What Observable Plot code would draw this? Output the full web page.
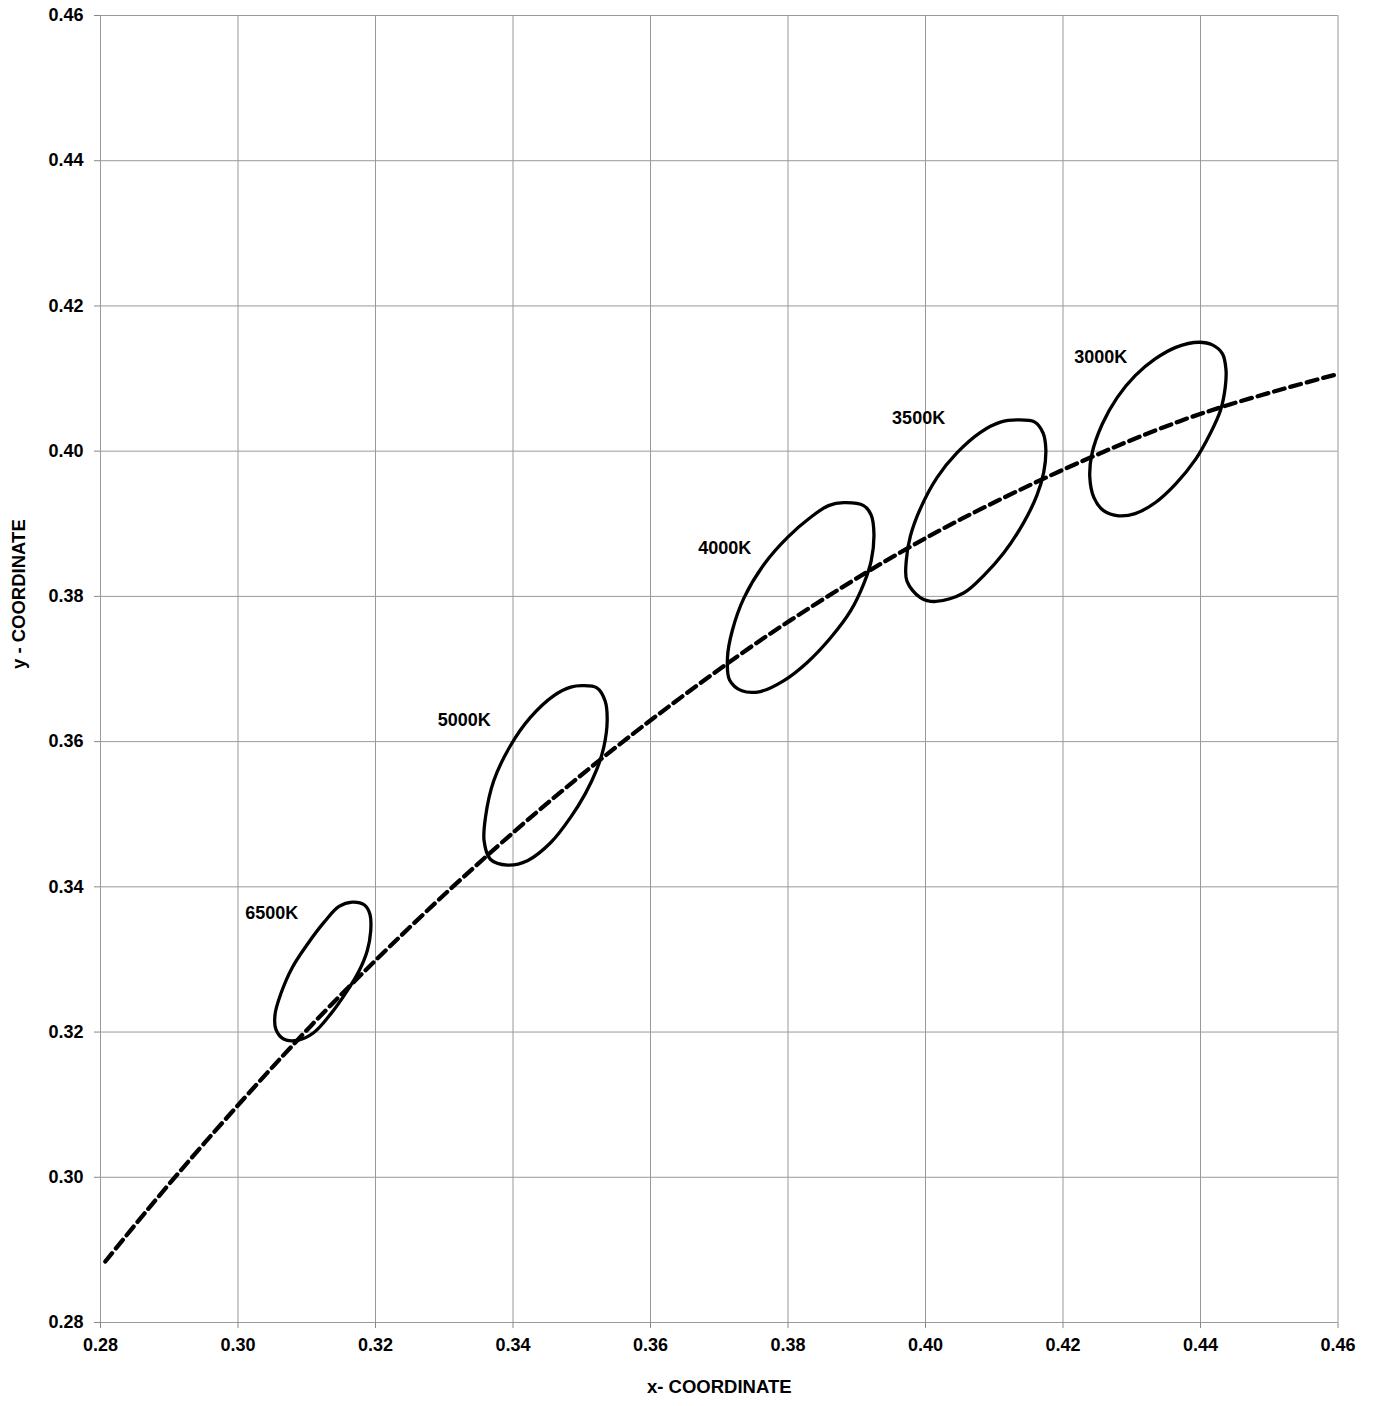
<!DOCTYPE html>
<html>
<head>
<meta charset="utf-8">
<script src="https://cdn.jsdelivr.net/npm/d3@7"></script>
<script src="https://cdn.jsdelivr.net/npm/@observablehq/plot@0.6"></script>
<style>
  html, body { margin: 0; padding: 0; background: #fff; }
  #chart { width: 1374px; height: 1406px; }
</style>
</head>
<body>
<div id="chart"></div>
<script>
// Axis ticks
const xTicks = [0.28, 0.30, 0.32, 0.34, 0.36, 0.38, 0.40, 0.42, 0.44, 0.46];
const yTicks = [0.28, 0.30, 0.32, 0.34, 0.36, 0.38, 0.40, 0.42, 0.44, 0.46];

// Planckian locus (dashed line)
const locusX = [0.2807, 0.2869, 0.2952, 0.3064, 0.3135, 0.3221, 0.3325, 0.3451, 0.3608, 0.3805, 0.4053, 0.4369, 0.4599];
const locusY = [0.2884, 0.2956, 0.3048, 0.3166, 0.3237, 0.3318, 0.3411, 0.3516, 0.3635, 0.3768, 0.3907, 0.4041, 0.4106];

// Ellipse outlines
const e6500x = [0.3166, 0.3184, 0.3192, 0.3193, 0.3188, 0.3176, 0.3159, 0.3135, 0.3110, 0.3088, 0.3067, 0.3055, 0.3054, 0.3062, 0.3079, 0.3101, 0.3125, 0.3147];
const e6500y = [0.3379, 0.3375, 0.3362, 0.3339, 0.3312, 0.3284, 0.3257, 0.3225, 0.3199, 0.3189, 0.3190, 0.3204, 0.3225, 0.3252, 0.3289, 0.3321, 0.3351, 0.3373];

const e5000x = [0.3501, 0.3522, 0.3534, 0.3537, 0.3532, 0.3522, 0.3505, 0.3484, 0.3455, 0.3421, 0.3392, 0.3367, 0.3358, 0.3360, 0.3372, 0.3396, 0.3425, 0.3459, 0.3484];
const e5000y = [0.3677, 0.3674, 0.3656, 0.3629, 0.3592, 0.3562, 0.3528, 0.3496, 0.3461, 0.3436, 0.3430, 0.3438, 0.3463, 0.3496, 0.3546, 0.3594, 0.3633, 0.3663, 0.3675];

const e4000x = [0.3881, 0.3910, 0.3921, 0.3925, 0.3921, 0.3910, 0.3891, 0.3862, 0.3828, 0.3794, 0.3760, 0.3733, 0.3715, 0.3712, 0.3719, 0.3736, 0.3765, 0.3799, 0.3833, 0.3859];
const e4000y = [0.3929, 0.3925, 0.3912, 0.3886, 0.3849, 0.3817, 0.3780, 0.3743, 0.3709, 0.3684, 0.3669, 0.3670, 0.3685, 0.3716, 0.3753, 0.3798, 0.3844, 0.3881, 0.3909, 0.3925];

const e3500x = [0.4133, 0.4159, 0.4171, 0.4175, 0.4172, 0.4162, 0.4143, 0.4114, 0.4085, 0.4056, 0.4015, 0.3993, 0.3973, 0.3972, 0.3978, 0.3993, 0.4017, 0.4046, 0.4080, 0.4109];
const e3500y = [0.4043, 0.4040, 0.4025, 0.4003, 0.3971, 0.3939, 0.3902, 0.3860, 0.3829, 0.3805, 0.3793, 0.3798, 0.3821, 0.3849, 0.3883, 0.3922, 0.3964, 0.3998, 0.4026, 0.4040];

const e3000x = [0.4398, 0.4418, 0.4432, 0.4437, 0.4436, 0.4429, 0.4414, 0.4393, 0.4364, 0.4334, 0.4305, 0.4281, 0.4259, 0.4245, 0.4239, 0.4242, 0.4257, 0.4279, 0.4305, 0.4334, 0.4364];
const e3000y = [0.4150, 0.4146, 0.4134, 0.4113, 0.4088, 0.4056, 0.4024, 0.3989, 0.3955, 0.3929, 0.3914, 0.3911, 0.3918, 0.3936, 0.3964, 0.3996, 0.4037, 0.4074, 0.4104, 0.4127, 0.4143];

// Labels
const labelNames = ["6500K", "5000K", "4000K", "3500K", "3000K"];
const labelX = [0.3049, 0.3329, 0.3708, 0.3990, 0.4255];
const labelY = [0.3364, 0.3629, 0.3866, 0.4046, 0.4129];

// Build tables
const locus = locusX.map((x, i) => ({x, y: locusY[i]}));
const ellipseSets = [
  ["6500K", e6500x, e6500y],
  ["5000K", e5000x, e5000y],
  ["4000K", e4000x, e4000y],
  ["3500K", e3500x, e3500y],
  ["3000K", e3000x, e3000y]
];
const ellipses = ellipseSets.flatMap(([name, xs, ys]) => xs.map((x, i) => ({name, x, y: ys[i]})));
const labels = labelNames.map((t, i) => ({t, x: labelX[i], y: labelY[i]}));

const FONT = "'Liberation Sans', Arial, Helvetica, sans-serif";

const chart = Plot.plot({
  width: 1374,
  height: 1406,
  marginLeft: 100,
  marginRight: 36.5,
  marginTop: 15,
  marginBottom: 84,
  style: {fontFamily: FONT, fontSize: "18px", fontWeight: "bold", background: "#fff", color: "#000"},
  x: {domain: [0.28, 0.46]},
  y: {domain: [0.28, 0.46]},
  marks: [
    Plot.gridX(xTicks, {stroke: "#999", strokeOpacity: 1, strokeWidth: 1}),
    Plot.gridY(yTicks, {stroke: "#999", strokeOpacity: 1, strokeWidth: 1}),
    Plot.axisX(xTicks, {tickFormat: d3.format(".2f"), tickSize: 6, tickPadding: 10, stroke: "#888", fill: "#000", label: null}),
    Plot.axisY(yTicks, {tickFormat: d3.format(".2f"), tickSize: 6, tickPadding: 11, stroke: "#888", fill: "#000", label: null}),
    Plot.line(locus, {x: "x", y: "y", curve: "catmull-rom", stroke: "#000", strokeWidth: 4.3, strokeDasharray: "11,6"}),
    Plot.line(ellipses, {x: "x", y: "y", z: "name", curve: "catmull-rom-closed", stroke: "#000", strokeWidth: 3.3}),
    Plot.text(labels, {x: "x", y: "y", text: "t", fontSize: 18, fontWeight: "bold", fill: "#000", textAnchor: "middle"}),
    Plot.text(["x- COORDINATE"], {frameAnchor: "bottom", dy: 70, fontSize: 18.5, fontWeight: "bold", fill: "#000"}),
    Plot.text(["y - COORDINATE"], {frameAnchor: "left", dx: -81, rotate: -90, fontSize: 18.5, fontWeight: "bold", fill: "#000"})
  ]
});
document.getElementById("chart").appendChild(chart);
</script>
</body>
</html>
